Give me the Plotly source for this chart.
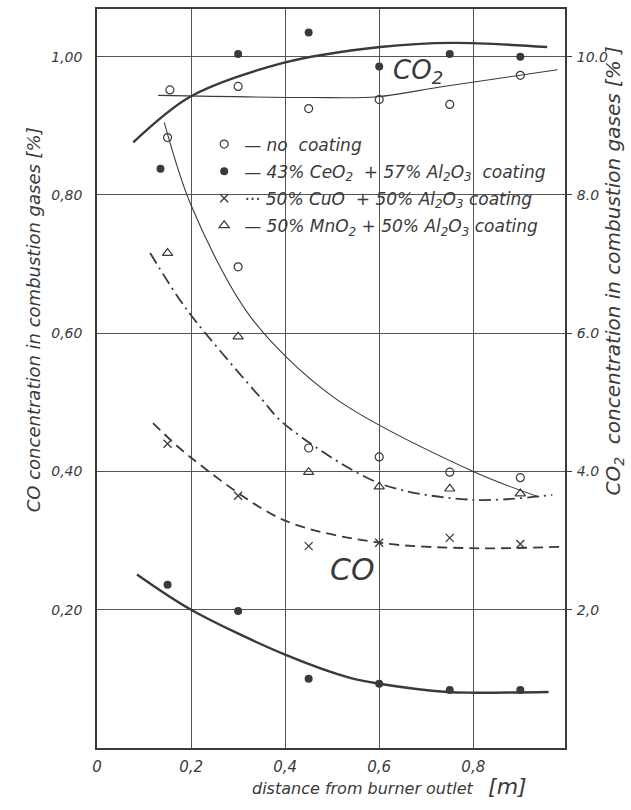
import plotly.graph_objects as go

# ---------------- data ----------------
x_pts = [0.15, 0.30, 0.45, 0.60, 0.75, 0.90]

# CO concentration [%] (left axis)
co_none = [0.883, 0.696, 0.434, 0.421, 0.399, 0.391]
co_ceo2 = [0.236, 0.198, 0.100, 0.093, 0.084, 0.084]
co_cuo = [0.440, 0.365, 0.292, 0.297, 0.304, 0.295]
co_mno2 = [0.716, 0.595, 0.399, 0.378, 0.375, 0.368]

# CO2 concentration [%] (right axis)
x_co2_none = [0.155, 0.30, 0.45, 0.60, 0.75, 0.90]
co2_none = [9.52, 9.57, 9.25, 9.38, 9.31, 9.73]
x_co2_ceo2 = [0.135, 0.30, 0.45, 0.60, 0.75, 0.90]
co2_ceo2 = [8.38, 10.04, 10.35, 9.86, 10.04, 10.00]

# hand-drawn fitted curves
fit_co_none_x = [0.143, 0.20, 0.326, 0.502, 0.80, 0.94]
fit_co_none_y = [0.905, 0.785, 0.624, 0.508, 0.400, 0.363]
fit_co_ceo2_x = [0.085, 0.20, 0.40, 0.54, 0.60, 0.745, 0.80, 0.96]
fit_co_ceo2_y = [0.251, 0.200, 0.135, 0.101, 0.093, 0.081, 0.080, 0.081]
fit_co_cuo_x = [0.119, 0.198, 0.396, 0.60, 0.798, 0.985]
fit_co_cuo_y = [0.470, 0.421, 0.330, 0.297, 0.289, 0.291]
fit_co_mno2_x = [0.113, 0.191, 0.351, 0.396, 0.60, 0.798, 0.968]
fit_co_mno2_y = [0.716, 0.634, 0.504, 0.470, 0.383, 0.359, 0.366]
fit_co2_ceo2_x = [0.077, 0.198, 0.396, 0.602, 0.757, 0.957]
fit_co2_ceo2_y = [8.76, 9.42, 9.91, 10.14, 10.20, 10.14]
fit_co2_none_x = [0.13, 0.453, 0.596, 0.736, 0.979]
fit_co2_none_y = [9.44, 9.41, 9.42, 9.57, 9.81]

x_ticks = [0, 0.2, 0.4, 0.6, 0.8, 1.0]
x_ticktext = ["0", "0,2", "0,4", "0,6", "0,8", "1,0"]
y_ticks = [0.2, 0.4, 0.6, 0.8, 1.0]
y_ticktext = ["0,20", "0,40", "0,60", "0,80", "1,00"]
y2_ticks = [2, 4, 6, 8, 10]
y2_ticktext = ["2,0", "4.0", "6.0", "8.0", "10.0"]

legend_names = [
    "— no  coating",
    "— 43% CeO<sub>2</sub>  + 57% Al<sub>2</sub>O<sub>3</sub>  coating",
    "··· 50% CuO  + 50% Al<sub>2</sub>O<sub>3</sub> coating",
    "— 50% MnO<sub>2</sub> + 50% Al<sub>2</sub>O<sub>3</sub> coating",
]

# ---------------- styling ----------------
INK = "#3a3a3a"
FONT = "DejaVu Sans, Liberation Sans, sans-serif"
YMAX = 1.069

fig = go.Figure()

def curve(x, y, width, dash="solid", yaxis="y"):
    fig.add_trace(go.Scatter(x=x, y=y, mode="lines", yaxis=yaxis,
                             line=dict(color=INK, width=width, dash=dash, shape="spline", smoothing=0.9),
                             showlegend=False, hoverinfo="skip"))

curve(fit_co_none_x, fit_co_none_y, 1.1)
curve(fit_co_ceo2_x, fit_co_ceo2_y, 2.4)
curve(fit_co_cuo_x, fit_co_cuo_y, 1.8, dash="10px,6px")
curve(fit_co_mno2_x, fit_co_mno2_y, 1.8, dash="12px,5px,2px,5px")
curve(fit_co2_ceo2_x, fit_co2_ceo2_y, 2.4, yaxis="y2")
curve(fit_co2_none_x, fit_co2_none_y, 1.1, yaxis="y2")

open_circle = dict(symbol="circle-open", size=8, color=INK, line=dict(width=1.2, color=INK))
filled_circle = dict(symbol="circle", size=8, color=INK)
x_mark = dict(symbol="x-thin-open", size=8, color=INK, line=dict(width=1.3, color=INK))
tri = dict(symbol="triangle-up-open", size=9, color=INK, line=dict(width=1.2, color=INK))

fig.add_trace(go.Scatter(x=x_pts, y=co_none, mode="markers", marker=open_circle,
                         name=legend_names[0], legendgroup="g1"))
fig.add_trace(go.Scatter(x=x_pts, y=co_ceo2, mode="markers", marker=filled_circle,
                         name=legend_names[1], legendgroup="g2"))
fig.add_trace(go.Scatter(x=x_pts, y=co_cuo, mode="markers", marker=x_mark,
                         name=legend_names[2], legendgroup="g3"))
fig.add_trace(go.Scatter(x=x_pts, y=co_mno2, mode="markers", marker=tri,
                         name=legend_names[3], legendgroup="g4"))
fig.add_trace(go.Scatter(x=x_co2_none, y=co2_none, mode="markers", marker=open_circle, yaxis="y2",
                         showlegend=False, legendgroup="g1"))
fig.add_trace(go.Scatter(x=x_co2_ceo2, y=co2_ceo2, mode="markers", marker=filled_circle, yaxis="y2",
                         showlegend=False, legendgroup="g2"))

tickfont = dict(family=FONT, size=14, color=INK, style="italic")

fig.update_layout(
    width=631, height=810,
    margin=dict(l=97, r=66, t=9, b=62),
    paper_bgcolor="white", plot_bgcolor="white",
    font=dict(family=FONT, color=INK, style="italic"),
    xaxis=dict(range=[0, 0.995], tickvals=x_ticks, ticktext=x_ticktext,
               tickfont=dict(family=FONT, size=15, color=INK, style="italic"),
               showgrid=True, gridcolor="#555", gridwidth=1, zeroline=False, automargin=False,
               showline=True, linecolor=INK, linewidth=1.5, mirror=True, ticks="", ticklabelstandoff=4),
    yaxis=dict(range=[0, YMAX], tickvals=y_ticks, ticktext=y_ticktext, tickfont=tickfont,
               showgrid=True, gridcolor="#555", gridwidth=1, zeroline=False, automargin=False,
               showline=True, linecolor=INK, linewidth=1.5, mirror=True, ticks="", ticklabelstandoff=10),
    yaxis2=dict(range=[0, YMAX * 10], overlaying="y", side="right", tickvals=y2_ticks,
                ticktext=y2_ticktext, tickfont=tickfont, showgrid=False, zeroline=False, automargin=False,
                showline=False, ticks="outside", ticklen=6, tickcolor=INK, ticklabelstandoff=2),
    legend=dict(x=0.229, y=0.841, xanchor="left", yanchor="top", bgcolor="rgba(0,0,0,0)",
                font=dict(family=FONT, size=17, color=INK, style="italic"),
                itemwidth=30, tracegroupgap=2, traceorder="grouped"),
    showlegend=True,
)

fig.add_annotation(text="CO concentration in combustion gases [%]", xref="paper", yref="paper",
                   x=-0.137, y=0.58, xanchor="center", yanchor="middle", textangle=-90, showarrow=False,
                   font=dict(family=FONT, size=18, color=INK, style="italic"))
fig.add_annotation(text="CO<sub>2</sub>  concentration in combustion gases [% ]", xref="paper", yref="paper",
                   x=1.105, y=0.645, xanchor="center", yanchor="middle", textangle=-90, showarrow=False,
                   font=dict(family=FONT, size=20, color=INK, style="italic"))
fig.add_annotation(text="distance from burner outlet   <span style='font-size:22px'>[m]</span>",
                   xref="paper", yref="paper", x=0.626, y=-0.052, xanchor="center", yanchor="middle",
                   showarrow=False,
                   font=dict(family=FONT, size=16, color=INK, style="italic"))
fig.add_annotation(text="CO<sub>2</sub>", x=0.683, y=0.978, xref="x", yref="y", showarrow=False,
                   font=dict(family=FONT, size=26, color=INK, style="italic"))
fig.add_annotation(text="CO", x=0.543, y=0.258, xref="x", yref="y", showarrow=False,
                   font=dict(family=FONT, size=30, color=INK, style="italic"))

fig.write_html("out.html", config={"displayModeBar": False},
               post_script="document.body.style.margin='0px';")
